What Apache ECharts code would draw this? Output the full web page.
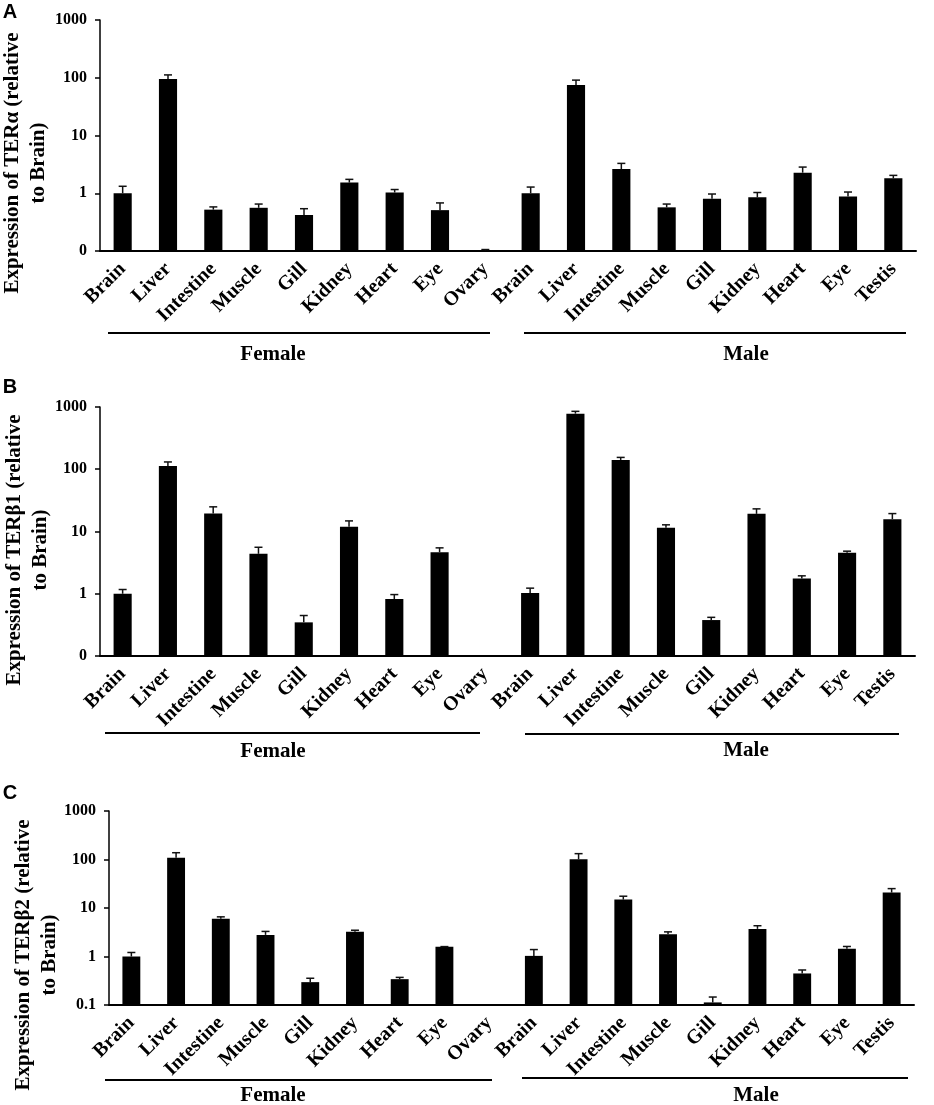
<!DOCTYPE html>
<html>
<head>
<meta charset="utf-8">
<script src="https://cdn.jsdelivr.net/npm/echarts@6/dist/echarts.min.js"></script>
<style>
  html, body { margin: 0; padding: 0; background: #fff; }
  #main { width: 934px; height: 1105px; }
</style>
</head>
<body>
<div id="main"></div>
<script>
// tissues, female group then male group
var categories = ['Brain', 'Liver', 'Intestine', 'Muscle', 'Gill', 'Kidney', 'Heart', 'Eye', 'Ovary',
                  'Brain', 'Liver', 'Intestine', 'Muscle', 'Gill', 'Kidney', 'Heart', 'Eye', 'Testis'];

// relative expression (mean) and upper error
var terAlpha    = [1.0, 95, 0.52, 0.56, 0.42, 1.53, 1.03, 0.51, 0.102, 1.0, 75, 2.63, 0.57, 0.80, 0.85, 2.27, 0.88, 1.81];
var terAlphaErr = [0.32, 17, 0.06, 0.09, 0.12, 0.21, 0.13, 0.17, 0.004, 0.28, 16, 0.66, 0.08, 0.17, 0.18, 0.57, 0.17, 0.23];

var terBeta1    = [1.0, 113, 19.4, 4.38, 0.347, 11.9, 0.82, 4.66, null, 1.03, 782, 141, 11.5, 0.378, 19.2, 1.76, 4.55, 15.8];
var terBeta1Err = [0.17, 18, 5.5, 1.2, 0.1, 2.9, 0.15, 0.8, null, 0.2, 70, 14, 1.3, 0.04, 3.9, 0.18, 0.28, 3.6];

var terBeta2    = [1.0, 109, 5.97, 2.79, 0.296, 3.22, 0.341, 1.58, null, 1.03, 101, 14.9, 2.88, 0.113, 3.71, 0.447, 1.44, 20.8];
var terBeta2Err = [0.21, 29, 0.6, 0.5, 0.06, 0.26, 0.03, 0.02, null, 0.36, 31, 2.6, 0.34, 0.033, 0.6, 0.08, 0.17, 4.3];

var yMin = 0.1, yMax = 1000;

var serif = '"Liberation Serif", "Times New Roman", serif';
var sans = '"Liberation Sans", Arial, sans-serif';

function rows(vals, errs) {
  var out = [];
  for (var i = 0; i < vals.length; i++) {
    if (vals[i] == null) continue;
    out.push([i, vals[i], errs[i]]);
  }
  return out;
}

// bar from axis bottom + upper whisker with cap
function renderBar(params, api) {
  var x = api.value(0), v = api.value(1), e = api.value(2);
  var base = api.coord([x, yMin]);
  var top = api.coord([x, v]);
  var errTop = api.coord([x, v + e]);
  var bw = api.size([1, 0])[0] * 0.4;
  var cap = 4;
  return {
    type: 'group',
    children: [
      { type: 'rect', shape: { x: top[0] - bw / 2, y: top[1], width: bw, height: base[1] - top[1] },
        style: { fill: '#000' } },
      { type: 'line', shape: { x1: top[0], y1: top[1], x2: errTop[0], y2: errTop[1] },
        style: { stroke: '#111', lineWidth: 1.5 } },
      { type: 'line', shape: { x1: errTop[0] - cap, y1: errTop[1], x2: errTop[0] + cap, y2: errTop[1] },
        style: { stroke: '#111', lineWidth: 1.5 } }
    ]
  };
}

var grids = [
  { left: 100, top: 20, width: 816, height: 231 },
  { left: 100, top: 407, width: 815, height: 249 },
  { left: 109, top: 811, width: 805, height: 194 }
];

function xAxisFor(i) {
  return {
    type: 'category', gridIndex: i, data: categories,
    axisLine: { lineStyle: { color: '#000', width: 2 } },
    axisTick: { show: false },
    axisLabel: { interval: 0, rotate: 45, margin: 15, color: '#000',
                 fontFamily: serif, fontWeight: 'bold', fontSize: 20 }
  };
}

function yAxisFor(i, zeroLabel) {
  return {
    type: 'log', gridIndex: i, logBase: 10, min: yMin, max: yMax,
    splitLine: { show: false },
    axisLine: { show: true, lineStyle: { color: '#000', width: 1.5 } },
    axisTick: { show: true, length: 5, lineStyle: { color: '#000', width: 1.5 } },
    axisLabel: {
      color: '#000', fontFamily: serif, fontWeight: 'bold', fontSize: 16, margin: 13,
      formatter: function (v) { return v < 0.5 ? zeroLabel : String(Math.round(v)); }
    }
  };
}

function txt(x, y, s, font, rot) {
  return {
    type: 'text', x: x, y: y, rotation: rot || 0,
    style: { text: s, font: font, fill: '#000', lineHeight: 26,
             align: 'center', verticalAlign: 'middle', textAlign: 'center', textVerticalAlign: 'middle' }
  };
}
function hline(x1, x2, y) {
  return { type: 'line', shape: { x1: x1, y1: y, x2: x2, y2: y }, style: { stroke: '#000', lineWidth: 2 } };
}

var titleFont = 'bold 21px ' + serif;
var groupFont = 'bold 21px ' + serif;
var letterFont = 'bold 20px ' + sans;

var graphics = [
  // panel letters
  txt(10, 12, 'A', letterFont), txt(10, 387, 'B', letterFont), txt(10, 793, 'C', letterFont),
  // y titles
  txt(26, 163, 'Expression of TERα (relative\nto Brain)', titleFont, Math.PI / 2),
  txt(28, 550, 'Expression of TERβ1 (relative\nto Brain)', titleFont, Math.PI / 2),
  txt(37, 955, 'Expression of TERβ2 (relative\nto Brain)', titleFont, Math.PI / 2),
  // group brackets
  hline(108, 490, 333), hline(524, 906, 333),
  txt(273, 355, 'Female', groupFont), txt(746, 355, 'Male', groupFont),
  hline(105, 480, 733), hline(525, 899, 734),
  txt(273, 752, 'Female', groupFont), txt(746, 751, 'Male', groupFont),
  hline(105, 492, 1080), hline(522, 908, 1078),
  txt(273, 1096, 'Female', groupFont), txt(756, 1096, 'Male', groupFont)
];

var chart = echarts.init(document.getElementById('main'), null, { renderer: 'canvas' });
chart.setOption({
  backgroundColor: '#fff',
  animation: false,
  grid: grids,
  xAxis: [xAxisFor(0), xAxisFor(1), xAxisFor(2)],
  yAxis: [yAxisFor(0, '0'), yAxisFor(1, '0'), yAxisFor(2, '0.1')],
  series: [
    { name: 'TERα', type: 'custom', xAxisIndex: 0, yAxisIndex: 0, renderItem: renderBar,
      encode: { x: 0, y: 1 }, data: rows(terAlpha, terAlphaErr) },
    { name: 'TERβ1', type: 'custom', xAxisIndex: 1, yAxisIndex: 1, renderItem: renderBar,
      encode: { x: 0, y: 1 }, data: rows(terBeta1, terBeta1Err) },
    { name: 'TERβ2', type: 'custom', xAxisIndex: 2, yAxisIndex: 2, renderItem: renderBar,
      encode: { x: 0, y: 1 }, data: rows(terBeta2, terBeta2Err) }
  ],
  graphic: graphics
});
</script>
</body>
</html>
